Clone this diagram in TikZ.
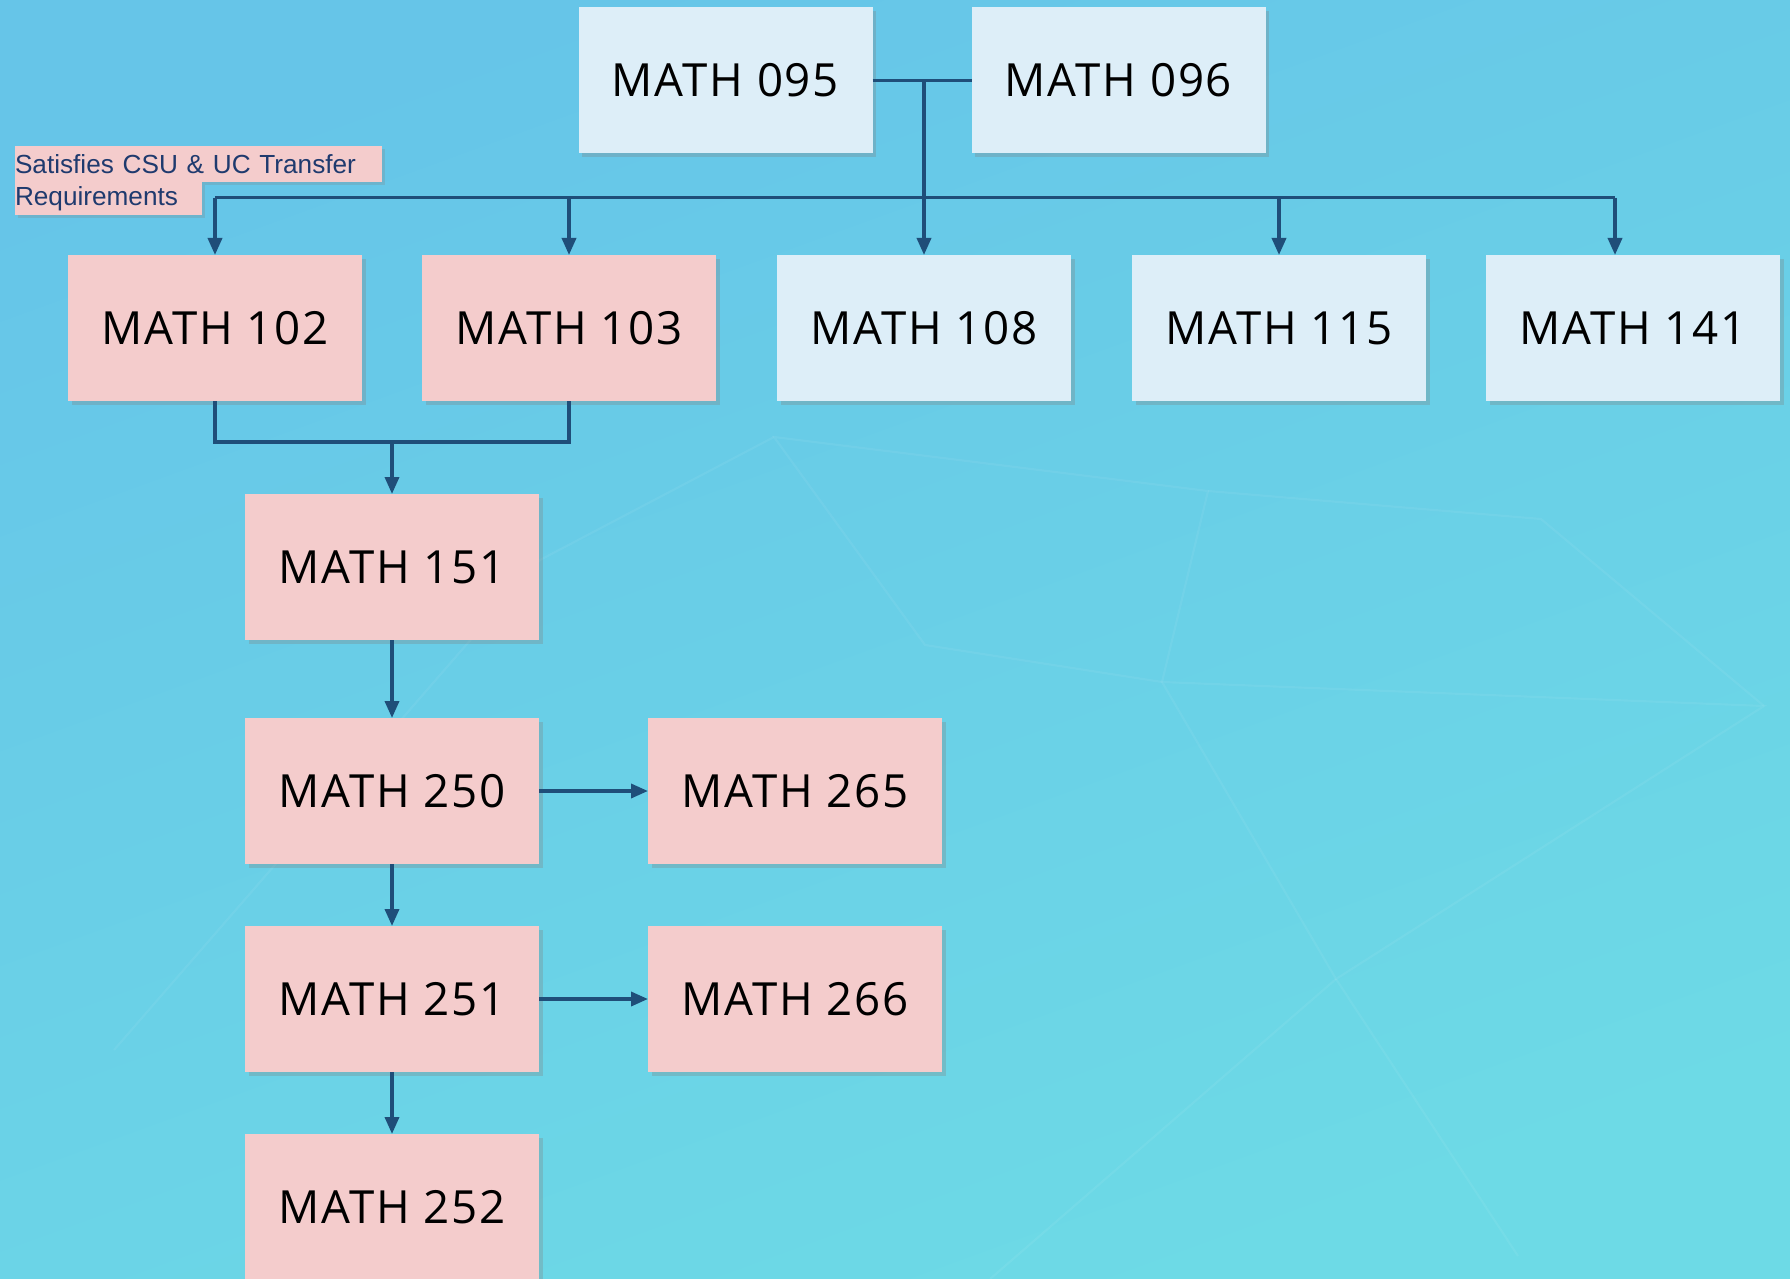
\documentclass[tikz,border=0pt]{standalone}
\usepackage{fontspec}
\setmainfont{Open Sans}
\newfontfamily\coursefont[LetterSpace=4]{Open Sans}
\newfontfamily\tagfont{Liberation Sans}
\usetikzlibrary{arrows.meta, positioning, calc, shadows}
\definecolor{bgtop}{HTML}{66C5E8}
\definecolor{bgbot}{HTML}{6DDAE6}
\definecolor{pinkfill}{HTML}{F4CCCC}
\definecolor{bluefill}{HTML}{DDEEF8}
\definecolor{linknavy}{HTML}{1F4E79}
\definecolor{tagtext}{HTML}{1F3A6E}

\begin{document}
\begin{tikzpicture}[font=\coursefont\fontsize{13}{15}\selectfont,
    course/.style={minimum width=2.94cm, minimum height=1.46cm, inner sep=0pt, outer sep=0pt,
        text=black, drop shadow={shadow xshift=0.035cm, shadow yshift=-0.035cm, opacity=0.3}},
    pinkbox/.style={course, fill=pinkfill},
    bluebox/.style={course, fill=bluefill},
    tag/.style={fill=pinkfill, text=tagtext, inner sep=0pt, outer sep=0pt, anchor=north west, align=left,
        font=\tagfont\fontsize{7.45}{9}\selectfont,
        drop shadow={shadow xshift=0.03cm, shadow yshift=-0.03cm, opacity=0.25}},
    link/.style={draw=linknavy, line width=1pt},
    arrow/.style={link, -{Triangle[length=1.7mm, width=1.4mm]}},
    facet/.style={white, opacity=0.06, line width=0.6pt}]
    \useasboundingbox (0,0) rectangle (17.9,-12.79);
    % background
    \shade[top color=bgtop, bottom color=bgbot, shading angle=20] (0,0) rectangle (17.9,-12.79);
    \draw[facet] (7.74,-4.37) -- (12.08,-4.91) -- (11.62,-6.82) -- (9.25,-6.45) -- cycle;
    \draw[facet] (11.62,-6.82) -- (13.36,-9.79) -- (17.64,-7.06) -- cycle;
    \draw[facet] (12.08,-4.91) -- (15.41,-5.19) -- (17.64,-7.06);
    \draw[facet] (13.36,-9.79) -- (15.18,-12.56);
    \draw[facet] (7.74,-4.37) -- (5.4,-5.6) -- (1.14,-10.50);
    \draw[facet] (13.36,-9.79) -- (9.9,-12.79);

    % top row
    \node[bluebox] (m095) at (7.255,-0.805) {MATH 095};
    \node[bluebox, right=0.99cm of m095] (m096) {MATH 096};

    % second row
    \node[pinkbox] (m102) at (2.15,-3.28) {MATH 102};
    \node[pinkbox, right=0.6cm of m102] (m103) {MATH 103};
    \node[bluebox, right=0.61cm of m103] (m108) {MATH 108};
    \node[bluebox, right=0.61cm of m108] (m115) {MATH 115};
    \node[bluebox, right=0.6cm of m115] (m141) {MATH 141};

    % transfer note
    \node[tag, text width=3.67cm, minimum height=0.36cm] (tag1) at (0.15,-1.46) {Satisfies CSU \& UC Transfer};
    \node[tag, text width=1.87cm, minimum height=0.33cm, below=0pt of tag1.south west, anchor=north west] (tag2) {Requirements};

    % calculus chain
    \coordinate (join) at ($(m102.south)!0.5!(m103.south)+(0,-0.41)$);
    \node[pinkbox, below=0.52cm of join] (m151) {MATH 151};
    \node[pinkbox, below=0.78cm of m151] (m250) {MATH 250};
    \node[pinkbox, right=1.09cm of m250] (m265) {MATH 265};
    \node[pinkbox, below=0.62cm of m250] (m251) {MATH 251};
    \node[pinkbox, right=1.09cm of m251] (m266) {MATH 266};
    \node[pinkbox, below=0.62cm of m251] (m252) {MATH 252};

    % connectors
    \coordinate (bus) at (0,-1.975);
    \coordinate (in141) at ($(m141.north)+(-0.18,0)$);
    \draw[link] (m095) -- (m096);
    \draw[arrow] (m108.north |- m095.east) -- (m108.north);
    \draw[link] (m102.north |- bus) -- (in141 |- bus);
    \foreach \c in {m102,m103,m115}
        \draw[arrow] (\c.north |- bus) -- (\c.north);
    \draw[arrow] (in141 |- bus) -- (in141);
    \draw[link] (m102.south) |- (join) -| (m103.south);
    \draw[arrow] (join) -- (m151);
    \draw[arrow] (m151) -- (m250);
    \draw[arrow] (m250) -- (m251);
    \draw[arrow] (m251) -- (m252);
    \draw[arrow] (m250) -- (m265);
    \draw[arrow] (m251) -- (m266);
\end{tikzpicture}
\end{document}
